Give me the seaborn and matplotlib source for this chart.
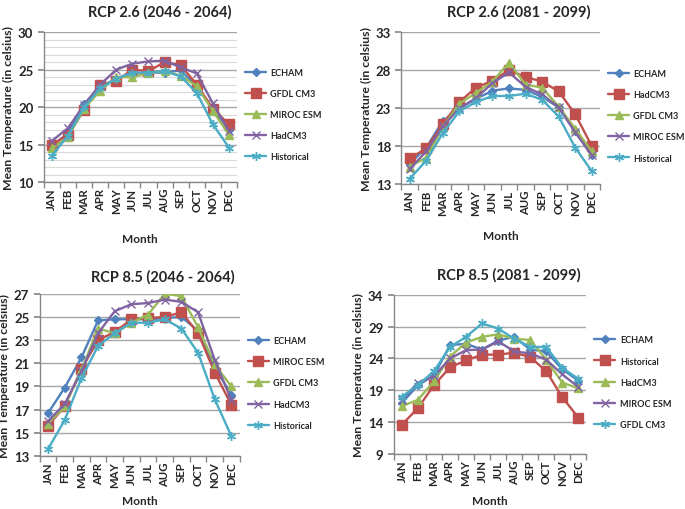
import numpy as np
import pandas as pd
import seaborn as sns
import matplotlib.pyplot as plt
from matplotlib.ticker import MultipleLocator

sns.set_theme(style="white")
plt.rcParams['font.family'] = ['Lato', 'DejaVu Sans']
plt.rcParams['font.weight'] = 'bold'

months = ["JAN", "FEB", "MAR", "APR", "MAY", "JUN", "JUL", "AUG", "SEP", "OCT", "NOV", "DEC"]

# RCP 2.6 (2046 - 2064)
p1_names = ["ECHAM", "GFDL CM3", "MIROC ESM", "HadCM3", "Historical"]
p1_echam = [14.8, 16.5, 20.4, 22.7, 23.8, 24.5, 24.6, 24.6, 24.9, 22.8, 19.7, 17.0]
p1_gfdl = [15.0, 16.3, 19.6, 22.9, 23.5, 25.0, 24.8, 26.0, 25.6, 23.0, 19.8, 17.7]
p1_miroc = [14.5, 16.0, 19.8, 22.2, 24.0, 24.0, 24.5, 24.8, 24.2, 22.8, 19.5, 16.3]
p1_had = [15.5, 17.2, 20.3, 23.0, 25.0, 25.8, 26.1, 26.2, 25.3, 24.5, 20.5, 16.8]
p1_hist = [13.5, 16.2, 20.0, 22.5, 23.8, 24.6, 24.6, 24.8, 24.1, 21.9, 17.7, 14.6]

# RCP 2.6 (2081 - 2099)
p2_names = ["ECHAM", "HadCM3", "GFDL CM3", "MIROC ESM", "Historical"]
p2_echam = [15.7, 17.8, 21.3, 23.0, 24.2, 25.3, 25.6, 25.4, 24.5, 23.1, 20.0, 16.8]
p2_had = [16.4, 17.7, 20.9, 23.8, 25.7, 26.6, 28.0, 27.1, 26.5, 25.2, 22.2, 18.0]
p2_gfdl = [15.3, 16.5, 20.5, 23.6, 25.0, 26.5, 29.0, 26.1, 25.7, 23.2, 20.3, 17.3]
p2_miroc = [15.0, 17.3, 20.6, 23.0, 24.3, 26.3, 27.7, 25.8, 24.8, 23.1, 19.8, 16.8]
p2_hist = [13.7, 16.1, 19.7, 22.6, 23.8, 24.6, 24.6, 24.9, 24.1, 21.9, 17.8, 14.7]

# RCP 8.5 (2046 - 2064)
p3_names = ["ECHAM", "MIROC ESM", "GFDL CM3", "HadCM3", "Historical"]
p3_echam = [16.7, 18.9, 21.5, 24.7, 24.8, 24.8, 24.8, 24.9, 25.0, 23.8, 20.6, 18.3]
p3_miroc = [15.6, 17.3, 20.5, 23.0, 23.7, 24.8, 24.9, 25.0, 25.4, 23.6, 20.2, 17.4]
p3_gfdl = [15.8, 17.3, 20.4, 24.0, 23.6, 24.5, 25.2, 27.0, 26.8, 24.1, 20.9, 19.0]
p3_had = [16.0, 17.5, 20.3, 23.6, 25.5, 26.1, 26.2, 26.5, 26.3, 25.4, 21.3, 17.8]
p3_hist = [13.6, 16.1, 19.7, 22.5, 23.6, 24.5, 24.5, 24.8, 24.0, 21.9, 17.9, 14.7]

# RCP 8.5 (2081 - 2099)
p4_names = ["ECHAM", "Historical", "HadCM3", "MIROC ESM", "GFDL CM3"]
p4_echam = [17.0, 19.8, 21.3, 26.1, 26.3, 25.4, 26.8, 27.4, 25.4, 25.1, 22.3, 20.5]
p4_hist = [13.6, 16.2, 19.8, 22.6, 23.7, 24.6, 24.6, 24.9, 24.2, 22.0, 17.9, 14.7]
p4_had = [16.5, 17.5, 20.4, 24.3, 26.5, 27.4, 27.8, 27.1, 26.9, 23.8, 20.2, 19.3]
p4_miroc = [17.5, 20.2, 21.2, 24.0, 25.3, 25.4, 26.7, 25.1, 24.8, 23.8, 21.5, 19.5]
p4_gfdl = [18.0, 19.8, 22.0, 25.8, 27.4, 29.5, 28.7, 27.1, 25.8, 25.8, 22.5, 20.8]

panels = [
    ("RCP 2.6 (2046 - 2064)", p1_names, [p1_echam, p1_gfdl, p1_miroc, p1_had, p1_hist], (10, 30, 5), True),
    ("RCP 2.6 (2081 - 2099)", p2_names, [p2_echam, p2_had, p2_gfdl, p2_miroc, p2_hist], (13, 33, 5), False),
    ("RCP 8.5 (2046 - 2064)", p3_names, [p3_echam, p3_miroc, p3_gfdl, p3_had, p3_hist], (13, 27, 2), False),
    ("RCP 8.5 (2081 - 2099)", p4_names, [p4_echam, p4_hist, p4_had, p4_miroc, p4_gfdl], (9, 34, 5), False),
]

colors = ["#4F81BD", "#C0504D", "#9BBB59", "#8064A2", "#4BACC6"]
markers = ["D", "s", "^", "x", (6, 2, 0)]
msizes = [4, 6.5, 6, 5.5, 6.5]

# axes boxes in figure fractions [left, bottom, width, height]
boxes = [
    [0.064, 0.641, 0.282, 0.294],
    [0.586, 0.637, 0.290, 0.298],
    [0.058, 0.104, 0.292, 0.318],
    [0.575, 0.108, 0.281, 0.312],
]
# title and x-label centres in pixels (x, y from top)
title_pos = [(160, 12), (519, 12), (163, 277), (509, 275)]
xlabel_pos = [(140, 240), (501, 237), (140, 502), (490, 502)]

fig = plt.figure(figsize=(6.85, 5.1), dpi=100)

for (title, names, series, (ymin, ymax, step), minor), box, (tx, ty), (lx, ly) in zip(
        panels, boxes, title_pos, xlabel_pos):
    ax = fig.add_axes(box)
    rows = []
    for name, vals in zip(names, series):
        for i, v in enumerate(vals):
            rows.append([name, i, v])
    df = pd.DataFrame(rows, columns=["Series", "Month", "Temp"])

    sns.lineplot(data=df, x="Month", y="Temp", hue="Series", hue_order=names,
                 palette=dict(zip(names, colors)), linewidth=1.7, legend=False,
                 sort=False, ax=ax)

    for line, c, m, ms in zip(ax.lines, colors, markers, msizes):
        line.set_marker(m)
        line.set_markersize(ms)
        line.set_markeredgecolor(c)
        line.set_markerfacecolor(c)
        line.set_markeredgewidth(1.0)

    ax.set_xlim(-0.5, 11.5)
    ax.set_ylim(ymin, ymax)
    ax.set_yticks(np.arange(ymin, ymax + 0.1, step))
    ax.set_xticks(range(12))
    ax.set_xticklabels(months, rotation=90, fontsize=8.2, fontweight="bold")
    ax.set_xticks(np.arange(-0.5, 12, 1), minor=True)
    ax.tick_params(axis="x", which="major", length=0, pad=4)
    ax.tick_params(axis="x", which="minor", length=4, color="#888888", direction="out", bottom=True)
    ax.tick_params(axis="y", which="major", length=4, color="#888888", direction="out", left=True,
                   labelsize=9.5)
    for lab in ax.get_yticklabels():
        lab.set_fontweight("bold")

    ax.grid(axis="y", which="major", color="#a6a6a6", linewidth=1.0)
    if minor:
        ax.yaxis.set_minor_locator(MultipleLocator(1))
        ax.grid(axis="y", which="minor", color="#d9d9d9", linewidth=0.8)
        ax.tick_params(axis="y", which="minor", length=0)
    ax.set_axisbelow(True)

    sns.despine(ax=ax)
    for sp in ("left", "bottom"):
        ax.spines[sp].set_color("#888888")
        ax.spines[sp].set_linewidth(1.0)

    fig.text(tx / 685, 1 - ty / 510, title, fontsize=10.5, fontweight="bold",
             ha="center", va="center")
    fig.text(lx / 685, 1 - ly / 510, "Month", fontsize=8.5, fontweight="bold",
             ha="center", va="center")
    ax.set_xlabel("")
    ax.set_ylabel("Mean Temperature (in celsius)", fontsize=8.8, fontweight="bold", labelpad=3)

    ax.legend(handles=list(ax.lines), labels=names, loc="center left", bbox_to_anchor=(1.0, 0.45),
              frameon=False, labelspacing=1.35, handlelength=2.3, handletextpad=0.5,
              prop={"weight": "bold", "size": 6.5})

fig.savefig("out.png", dpi=100)
